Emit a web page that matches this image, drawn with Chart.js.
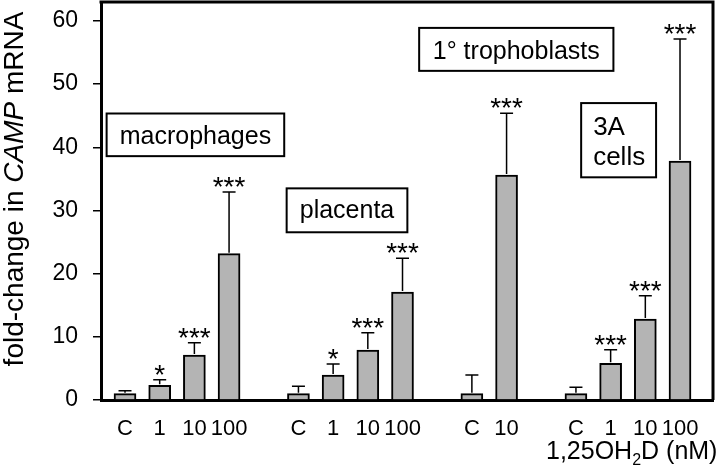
<!DOCTYPE html>
<html><head><meta charset="utf-8">
<script src="https://cdn.jsdelivr.net/npm/chart.js@4.4.1/dist/chart.umd.min.js"></script>
<style>html,body{margin:0;padding:0;background:#fff;} #wrap{width:720px;height:470px;}</style>
</head><body><div id="wrap"><canvas id="c" width="720" height="470"></canvas></div>
<script>
// ---- data ----
const categories   = ['C','1','10','100','','C','1','10','100','','C','10','','C','1','10','100'];
const foldChange   = [1.0, 2.33, 7.12, 23.16, null, 1.0, 3.96, 7.92, 17.1, null, 1.0, 35.6, null, 1.0, 5.8, 12.82, 37.83];
const errorUp      = [0.47, 0.88, 1.95, 9.77, null, 1.17, 1.74, 2.73, 5.33, null, 2.96, 9.8, null, 1.0, 2.16, 3.68, 19.32];
const significance = ['', '*', '***', '***', '', '', '*', '***', '***', '', '', '***', '', '', '***', '***', '***'];
const yTicks       = [0, 10, 20, 30, 40, 50, 60];
const groupLabels  = ['macrophages', 'placenta', '1° trophoblasts', '3A cells'];

const FONT = '"Liberation Sans", Arial, Helvetica, sans-serif';
const barPoints = [];
foldChange.forEach((v, i) => { if (v !== null) barPoints.push({x: i, y: v}); });

const annot = {
  id: 'annot',
  afterDatasetsDraw(chart) {
    const ctx = chart.ctx, xs = chart.scales.x, ys = chart.scales.y;
    ctx.save();
    ctx.strokeStyle = '#000'; ctx.fillStyle = '#000';
    // error bars + stars
    foldChange.forEach((v, i) => {
      if (v === null) return;
      const x = xs.getPixelForValue(i);
      const y0 = ys.getPixelForValue(v);
      const y1 = ys.getPixelForValue(v + errorUp[i]);
      ctx.lineWidth = 1.5;
      ctx.beginPath();
      ctx.moveTo(x, y0 - 1); ctx.lineTo(x, y1);
      ctx.moveTo(x - 6.5, y1); ctx.lineTo(x + 6.5, y1);
      ctx.stroke();
      if (significance[i]) {
        ctx.font = '28px ' + FONT;
        ctx.textAlign = 'center'; ctx.textBaseline = 'alphabetic';
        ctx.fillText(significance[i], x, y1 + 4);
      }
    });
    // frame top/right
    const a = chart.chartArea;
    ctx.lineWidth = 3;
    ctx.beginPath();
    ctx.moveTo(a.left - 1.5, a.top); ctx.lineTo(a.right, a.top); ctx.lineTo(a.right, a.bottom);
    ctx.stroke();
    // group label boxes (data coords)
    const box = (x0, x1, yTop, yBot) => {
      const px0 = xs.getPixelForValue(x0), px1 = xs.getPixelForValue(x1);
      const py0 = ys.getPixelForValue(yTop), py1 = ys.getPixelForValue(yBot);
      ctx.lineWidth = 2;
      ctx.fillStyle = '#fff';
      ctx.fillRect(px0, py0, px1 - px0, py1 - py0);
      ctx.strokeRect(px0, py0, px1 - px0, py1 - py0);
      ctx.fillStyle = '#000';
      return {px0, px1, py0, py1};
    };
    ctx.textBaseline = 'alphabetic';
    let b = box(-0.53, 4.59, 45.35, 38.6);
    ctx.font = '25px ' + FONT; ctx.textAlign = 'center';
    ctx.fillText(groupLabels[0], (b.px0 + b.px1) / 2, b.py0 + 30);
    b = box(4.66, 8.14, 33.5, 26.55);
    ctx.fillText(groupLabels[1], (b.px0 + b.px1) / 2, b.py0 + 30);
    b = box(8.48, 14.08, 58.9, 52.1);
    ctx.fillText(groupLabels[2], (b.px0 + b.px1) / 2, b.py0 + 31);
    b = box(13.15, 15.31, 47.0, 35.25);
    ctx.font = '26px ' + FONT; ctx.textAlign = 'left';
    const parts = groupLabels[3].split(' ');
    ctx.fillText(parts[0], b.px0 + 12, b.py0 + 32);
    ctx.fillText(parts[1], b.px0 + 12, b.py0 + 62);

    // x axis unit label: 1,25OH2D (nM)
    let x = 546, y = 459;
    ctx.textAlign = 'left';
    ctx.font = '25px ' + FONT;
    ctx.fillText('1,25OH', x, y); x += ctx.measureText('1,25OH').width;
    ctx.font = '16px ' + FONT;
    ctx.fillText('2', x, y + 6); x += ctx.measureText('2').width;
    ctx.font = '25px ' + FONT;
    ctx.fillText('D (nM)', x, y);

    // y-axis title
    ctx.save();
    ctx.translate(23, 189);
    ctx.rotate(-Math.PI / 2);
    const segs = [['fold-change in ', 'normal'], ['CAMP', 'italic'], [' mRNA', 'normal']];
    let total = 0;
    segs.forEach(s => { ctx.font = s[1] + ' 28px ' + FONT; total += ctx.measureText(s[0]).width; });
    let tx = -total / 2;
    segs.forEach(s => { ctx.font = s[1] + ' 28px ' + FONT; ctx.fillText(s[0], tx, 0); tx += ctx.measureText(s[0]).width; });
    ctx.restore();
    ctx.restore();
  }
};

new Chart(document.getElementById('c').getContext('2d'), {
  type: 'bar',
  data: { datasets: [{ data: barPoints, backgroundColor: '#b4b4b4', borderColor: '#000', borderWidth: 2, borderSkipped: 'bottom', barThickness: 22 }] },
  options: {
    responsive: false, animation: false, devicePixelRatio: 1,
    layout: { padding: { left: 0, right: 7, top: 2, bottom: 0 } },
    plugins: { legend: { display: false }, tooltip: { enabled: false } },
    scales: {
      x: {
        type: 'linear', min: -0.692, max: 16.951, offset: false,
        grid: { display: false, offset: false },
        border: { display: true, width: 3, color: '#000' },
        afterBuildTicks: s => { s.ticks = categories.map((c, i) => c ? { value: i } : null).filter(Boolean); },
        ticks: { autoSkip: false, maxRotation: 0, padding: 8, color: '#000', font: { family: FONT, size: 22 }, callback: v => categories[v] },
        afterFit: s => { s.height = 70; s.paddingLeft = 0; s.paddingRight = 0; }
      },
      y: {
        min: 0, max: 63,
        grid: { drawOnChartArea: false, drawTicks: true, tickLength: 8, color: '#000', lineWidth: 1.5 },
        border: { display: true, width: 3, color: '#000' },
        afterBuildTicks: s => { s.ticks = yTicks.map(v => ({ value: v })); },
        ticks: { padding: 15, color: '#000', font: { family: FONT, size: 23 } },
        afterFit: s => { s.width = 101; s.paddingTop = 0; s.paddingBottom = 0; }
      }
    }
  },
  plugins: [annot]
});
</script>
</body></html>
